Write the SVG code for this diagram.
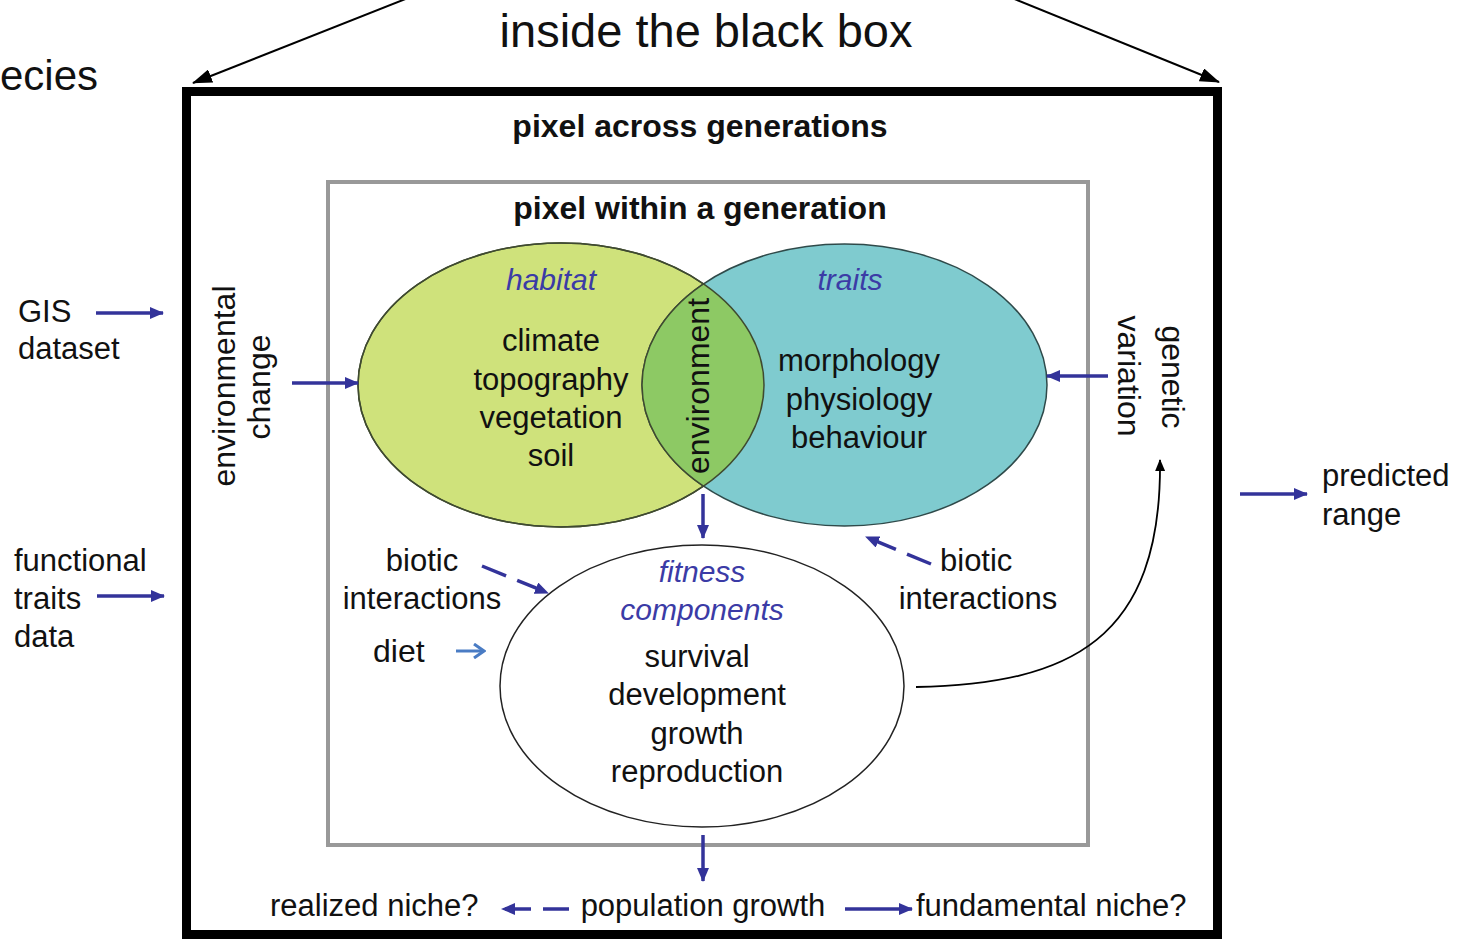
<svg xmlns="http://www.w3.org/2000/svg" width="1470" height="939" viewBox="0 0 1470 939">
<style>
.t{font-family:"Liberation Sans",Arial,sans-serif;font-size:31px;fill:#111}
.c{text-anchor:middle}
.b{font-weight:bold;font-size:32px}
.i{font-style:italic;fill:#3b3ba6;font-size:30px}
.blue{stroke:#33339a;stroke-width:3.5;fill:none}
.dash{stroke-dasharray:26 12}
</style>
<defs>
<marker id="ab" markerUnits="userSpaceOnUse" markerWidth="14" markerHeight="12" refX="13" refY="6" orient="auto"><path d="M0,0 L14,6 L0,12 z" fill="#33339a"/></marker>
<marker id="ak" markerUnits="userSpaceOnUse" markerWidth="20" markerHeight="14" refX="19" refY="7" orient="auto"><path d="M0,0 L20,7 L0,14 z" fill="#000"/></marker>
<marker id="aks" markerUnits="userSpaceOnUse" markerWidth="12" markerHeight="10" refX="11" refY="5" orient="auto"><path d="M0,0 L12,5 L0,10 z" fill="#000"/></marker>
<marker id="ao" markerUnits="userSpaceOnUse" markerWidth="14" markerHeight="16" refX="12" refY="8" orient="auto"><path d="M2,1 L12,8 L2,15" fill="none" stroke="#4a7cc4" stroke-width="3"/></marker>
</defs>
<rect width="1470" height="939" fill="#fff"/>

<g id="title">
<text class="t c" x="706" y="47" style="font-size:47px">inside the black box</text>
<text class="t" x="0" y="90" style="font-size:42px">ecies</text>
</g>

<g id="black-box">
<rect x="186.5" y="91.5" width="1031" height="843" fill="none" stroke="#000" stroke-width="9"/>
<text class="t c b" x="700" y="137">pixel across generations</text>
</g>

<g id="gray-box">
<rect x="328" y="182" width="760" height="663" fill="none" stroke="#999" stroke-width="4"/>
<text class="t c b" x="700" y="219">pixel within a generation</text>
</g>

<g id="habitat">
<ellipse cx="561" cy="385" rx="203" ry="142" fill="#cfe27b" stroke="#3f4a30" stroke-width="1.5"/>
</g>
<g id="traits">
<ellipse cx="844.5" cy="385" rx="202.5" ry="141" fill="#7fcbcf" stroke="#2f4a4a" stroke-width="1.5"/>
</g>
<g id="environment">
<clipPath id="clipG"><ellipse cx="561" cy="385" rx="203" ry="142"/></clipPath>
<ellipse cx="844.5" cy="385" rx="202.5" ry="141" fill="#8dc964" stroke="#3f4a30" stroke-width="1.5" clip-path="url(#clipG)"/>
<ellipse cx="561" cy="385" rx="203" ry="142" fill="none" stroke="#3f4a30" stroke-width="1.5"/>
<text class="t c" transform="translate(709,386) rotate(-90)" style="font-size:32px">environment</text>
</g>
<g id="habitat-text">
<text class="t c i" x="551" y="290">habitat</text>
<text class="t c" x="551" y="351">climate</text>
<text class="t c" x="551" y="390">topography</text>
<text class="t c" x="551" y="428">vegetation</text>
<text class="t c" x="551" y="466">soil</text>
</g>
<g id="traits-text">
<text class="t c i" x="850" y="290">traits</text>
<text class="t c" x="859" y="371">morphology</text>
<text class="t c" x="859" y="410">physiology</text>
<text class="t c" x="859" y="448">behaviour</text>
</g>

<g id="fitness">
<ellipse cx="702" cy="686" rx="202" ry="141" fill="#fff" stroke="#222" stroke-width="1.5"/>
<text class="t c i" x="702" y="582">fitness</text>
<text class="t c i" x="702" y="620">components</text>
<text class="t c" x="697" y="667">survival</text>
<text class="t c" x="697" y="705">development</text>
<text class="t c" x="697" y="744">growth</text>
<text class="t c" x="697" y="782">reproduction</text>
</g>

<g id="labels">
<text class="t" x="18" y="322">GIS</text>
<text class="t" x="18" y="359">dataset</text>
<text class="t" x="14" y="571">functional</text>
<text class="t" x="14" y="609">traits</text>
<text class="t" x="14" y="647">data</text>
<text class="t" x="1322" y="486">predicted</text>
<text class="t" x="1322" y="525">range</text>
<text class="t c" transform="translate(235,386) rotate(-90)" style="font-size:32px">environmental</text>
<text class="t c" transform="translate(270,387) rotate(-90)" style="font-size:32px">change</text>
<text class="t c" transform="translate(1162,377) rotate(90)" style="font-size:32px">genetic</text>
<text class="t c" transform="translate(1118,376) rotate(90)" style="font-size:32px">variation</text>
<text class="t c" x="422" y="571">biotic</text>
<text class="t c" x="422" y="609">interactions</text>
<text class="t" x="373" y="662" style="font-size:32px">diet</text>
<text class="t" x="940" y="571">biotic</text>
<text class="t c" x="978" y="609">interactions</text>
<text class="t c" x="703" y="916">population growth</text>
<text class="t" x="270" y="916">realized niche?</text>
<text class="t" x="916" y="916">fundamental niche?</text>
</g>

<g id="connectors">
<line x1="408" y1="-2" x2="193" y2="83" stroke="#000" stroke-width="2" marker-end="url(#ak)"/>
<line x1="1012" y1="-2" x2="1219" y2="82" stroke="#000" stroke-width="2" marker-end="url(#ak)"/>
<line class="blue" x1="96" y1="313" x2="163" y2="313" marker-end="url(#ab)"/>
<line class="blue" x1="97" y1="596" x2="164" y2="596" marker-end="url(#ab)"/>
<line class="blue" x1="1240" y1="494" x2="1307" y2="494" marker-end="url(#ab)"/>
<line class="blue" x1="292" y1="383" x2="358" y2="383" marker-end="url(#ab)"/>
<line class="blue" x1="1108" y1="376" x2="1047" y2="376" marker-end="url(#ab)"/>
<line class="blue" x1="703" y1="494" x2="703" y2="538" marker-end="url(#ab)"/>
<line class="blue dash" x1="482" y1="566" x2="548" y2="593" marker-end="url(#ab)"/>
<line class="blue dash" x1="931" y1="564" x2="866" y2="537" marker-end="url(#ab)"/>
<line x1="456" y1="651" x2="484" y2="651" stroke="#4a7cc4" stroke-width="3" marker-end="url(#ao)"/>
<path d="M916,687 C1070,684 1162,640 1160,460" fill="none" stroke="#000" stroke-width="1.8" marker-end="url(#aks)"/>
<line class="blue" x1="703" y1="835" x2="703" y2="881" marker-end="url(#ab)"/>
<line class="blue dash" x1="569" y1="909" x2="502" y2="909" marker-end="url(#ab)"/>
<line class="blue" x1="845" y1="909" x2="912" y2="909" marker-end="url(#ab)"/>
</g>
</svg>
